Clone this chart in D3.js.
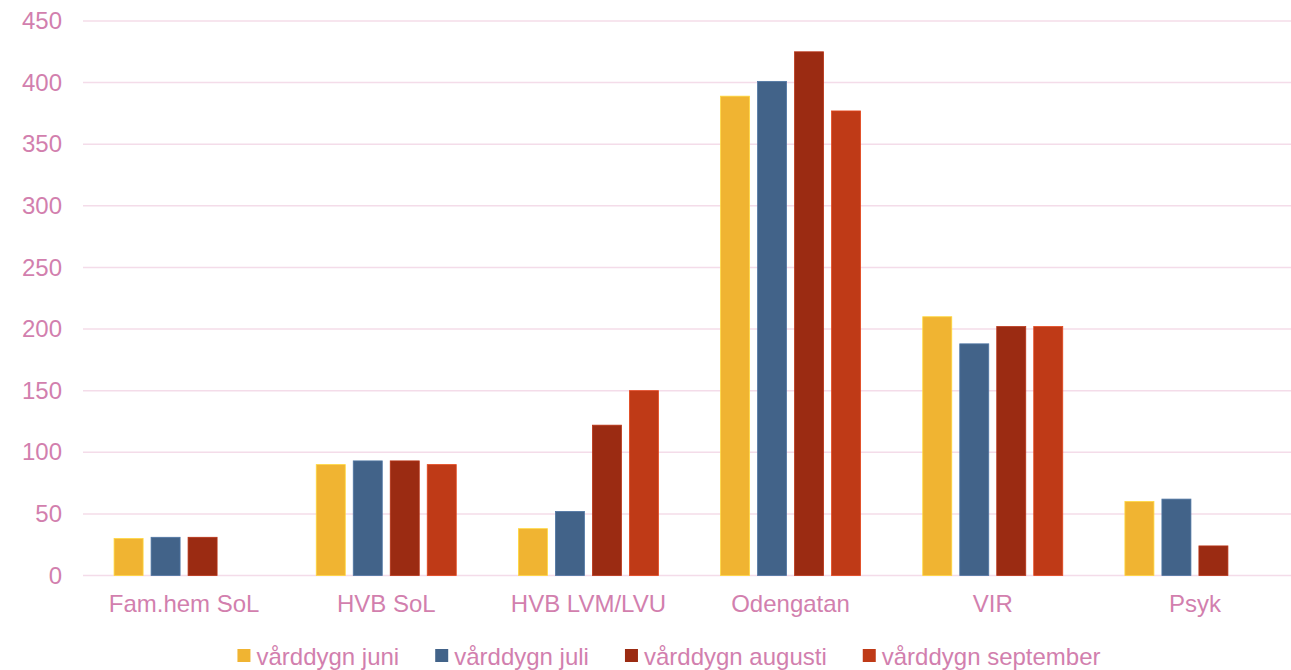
<!DOCTYPE html>
<html>
<head>
<meta charset="utf-8">
<script src="https://cdn.jsdelivr.net/npm/d3@7"></script>
<style>
  body { margin: 0; background: #fff; }
  text { font-family: "Liberation Sans", Arial, sans-serif; }
</style>
</head>
<body>
<div id="canvas"></div>
<script>
const categories = ["Fam.hem SoL", "HVB SoL", "HVB LVM/LVU", "Odengatan", "VIR", "Psyk"];
const seriesNames = ["vårddygn juni", "vårddygn juli", "vårddygn augusti", "vårddygn september"];
const juni = [30, 90, 38, 389, 210, 60];
const juli = [31, 93, 52, 401, 188, 62];
const augusti = [31, 93, 122, 425, 202, 24];
const september = [null, 90, 150, 377, 202, null];
const yTicks = [0, 50, 100, 150, 200, 250, 300, 350, 400, 450];
const colors = ["#f0b432", "#426389", "#9b2b12", "#bf3a17"];

const w = 1291, h = 670;
const margin = { top: 21, bottom: 94.5, left: 83, right: -5 };
const textColor = "#d27fae";
const gridColor = "#f4dce9";

const seriesValues = [juni, juli, augusti, september];
const data = [];
categories.forEach((c, i) => {
  seriesNames.forEach((s, j) => {
    if (seriesValues[j][i] != null) data.push({ cat: c, series: s, value: seriesValues[j][i], idx: j });
  });
});

const svg = d3.select("#canvas").append("svg").attr("width", w).attr("height", h);

const x0 = d3.scaleBand().domain(categories).range([margin.left, w - margin.right]).padding(0);
const bw = x0.bandwidth();
const x1 = d3.scaleBand().domain(seriesNames)
  .range([(bw - 140) / 2, (bw + 140) / 2]).paddingInner(0.216).paddingOuter(0);
const y = d3.scaleLinear().domain([0, 450]).range([h - margin.bottom, margin.top]);

// grid
svg.append("g").selectAll("line").data(yTicks).enter().append("line")
  .attr("x1", margin.left).attr("x2", w)
  .attr("y1", d => y(d)).attr("y2", d => y(d))
  .style("stroke", gridColor).style("stroke-width", 1.5);

// y axis
const yAxis = d3.axisLeft(y).tickValues(yTicks).tickSize(0).tickPadding(21);
const yg = svg.append("g").attr("transform", "translate(" + margin.left + ",0)").call(yAxis);
yg.select(".domain").remove();
yg.selectAll("text").style("font-size", "24px").style("fill", textColor)
  .style("font-family", "'Liberation Sans', Arial, sans-serif");

// x axis
const xAxis = d3.axisBottom(x0).tickSize(0).tickPadding(19);
const xg = svg.append("g").attr("transform", "translate(0," + y(0) + ")").call(xAxis);
xg.select(".domain").remove();
xg.selectAll("text").style("font-size", "24px").style("fill", textColor)
  .style("font-family", "'Liberation Sans', Arial, sans-serif");

// bars
svg.append("g").selectAll("rect").data(data).enter().append("rect")
  .attr("x", d => x0(d.cat) + x1(d.series))
  .attr("y", d => y(d.value))
  .attr("width", x1.bandwidth())
  .attr("height", d => y(0) - y(d.value))
  .style("fill", d => colors[d.idx])
  .style("stroke", d => d3.color(colors[d.idx]).brighter(0.5))
  .style("stroke-width", 0.8);

// legend
const legend = svg.append("g");
const items = legend.selectAll("g").data(seriesNames).enter().append("g");
items.append("rect").attr("width", 13).attr("height", 13).attr("y", 649)
  .style("fill", (d, i) => colors[i]);
items.append("text").attr("x", 19).attr("y", 665).text(d => d)
  .style("font-size", "24px").style("fill", textColor);
const gap = 36;
let pos = 0;
const offsets = [];
items.each(function () {
  offsets.push(pos);
  pos += 19 + this.querySelector("text").getComputedTextLength() + gap;
});
const total = pos - gap;
const startX = 669 - total / 2;
items.attr("transform", (d, i) => "translate(" + (startX + offsets[i]) + ",0)");
</script>
</body>
</html>
